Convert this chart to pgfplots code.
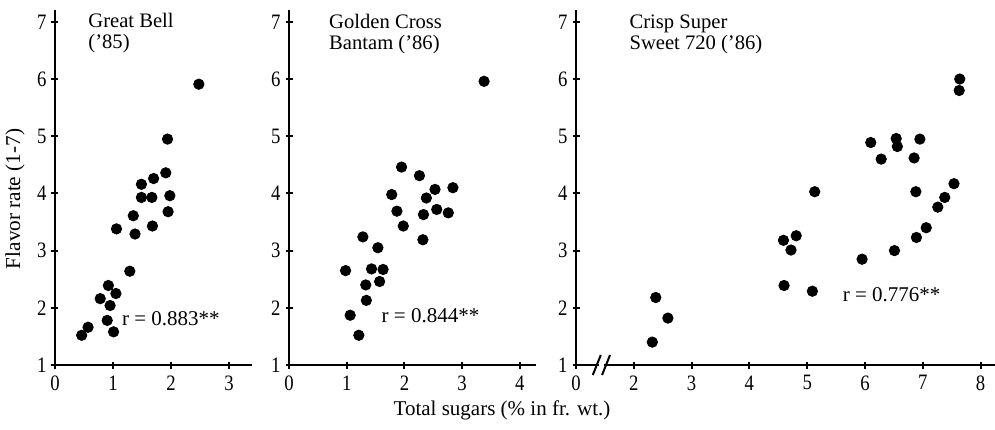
\documentclass[border=0pt]{standalone}
\usepackage{pgfplots}
\pgfplotsset{compat=1.18}
\usepackage{fontspec}
\setmainfont{Liberation Serif}
\newfontfamily\condfont[FakeStretch=0.85]{Liberation Serif}
\pgfplotsset{
  panel/.style={
    scale only axis, anchor=south west, clip=false,
    axis lines*=left, axis line style={-, line width=1.4pt},
    ymin=1, ymax=7.2, height=177.3pt,
    ytick={1,...,7},
    tick align=center, major tick length=3.5pt,
    tick style={line width=1pt, black},
    ticklabel style={font=\condfont\fontsize{11}{11}\selectfont},
    /pgf/number format/assume math mode=true,
    yticklabel style={xshift=1pt},
  },
  dots/.style={black, only marks, mark=*, mark size=2.6pt, mark options={fill=black, draw=black}},
}
\tikzset{
  ttl/.style={anchor=base west, inner sep=0pt, font=\fontsize{10.3}{10.3}\selectfont},
  rl/.style={anchor=base west, inner sep=0pt, font=\fontsize{10.5}{10.5}\selectfont},
}
\begin{document}
\begin{tikzpicture}
\useasboundingbox (0,0) rectangle (497.5pt,214.5pt);
% Panel 1
\begin{axis}[panel, at={(27.5pt,32pt)}, width=98.6pt, xmin=0, xmax=3.4, xtick={0,1,2,3}]
\addplot[dots] table {
x y
0.46 1.52
0.57 1.66
0.78 2.16
0.90 1.78
0.92 2.39
0.95 2.04
1.05 2.25
1.01 1.58
1.06 3.38
1.29 2.64
1.35 3.61
1.38 3.29
1.49 4.16
1.49 3.93
1.67 3.93
1.70 4.26
1.68 3.43
1.91 4.36
1.94 4.95
1.95 3.68
1.98 3.96
2.48 5.91
};
\node[ttl] at (axis cs:0.57,6.90) {Great Bell};
\node[ttl] at (axis cs:0.57,6.53) {('85)};
\node[rl] at (axis cs:1.15,1.69) {r = 0.883**};
\end{axis}
% Panel 2
\begin{axis}[panel, at={(144.5pt,32pt)}, width=123.5pt, xmin=0, xmax=4.28, xtick={0,1,2,3,4}]
\addplot[dots] table {
x y
0.98 2.65
1.06 1.87
1.21 1.52
1.28 3.24
1.33 2.40
1.34 2.13
1.43 2.68
1.54 3.05
1.57 2.46
1.63 2.67
1.78 3.98
1.87 3.69
1.95 4.46
1.98 3.43
2.26 4.31
2.32 3.19
2.33 3.63
2.38 3.92
2.53 4.07
2.56 3.72
2.76 3.66
2.84 4.10
3.38 5.96
};
\node[ttl] at (axis cs:0.69,6.89) {Golden Cross};
\node[ttl] at (axis cs:0.69,6.52) {Bantam ('86)};
\node[rl] at (axis cs:1.60,1.74) {r = 0.844**};
\end{axis}
% Panel 3
\begin{axis}[panel, at={(288pt,32pt)}, width=209.5pt, xmin=1, xmax=8.25,
  xtick={1,2,3,4,5,6,7,8}, xticklabels={0,2,3,4,5,6,7,8}]
\addplot[dots] table {
x y
2.32 1.40
2.38 2.18
2.59 1.82
4.59 3.18
4.60 2.39
4.72 3.01
4.81 3.26
5.09 2.29
5.13 4.03
5.95 2.85
6.10 4.89
6.28 4.60
6.51 3.00
6.54 4.96
6.56 4.82
6.85 4.62
6.88 4.03
6.89 3.23
6.95 4.95
7.06 3.40
7.26 3.76
7.38 3.93
7.54 4.17
7.63 5.80
7.64 6.00
};
\node[ttl] at (axis cs:1.92,6.89) {Crisp Super};
\node[ttl] at (axis cs:1.92,6.52) {Sweet 720 ('86)};
\node[rl] at (axis cs:5.61,2.11) {r = 0.776**};
\coordinate (bA) at (axis cs:1.36,1);
\coordinate (bB) at (axis cs:1.52,1);
\end{axis}
\fill[white] ([xshift=1pt,yshift=-2pt]bA) rectangle ([xshift=-1pt,yshift=2pt]bB);
\draw[line width=1pt] ([xshift=-2pt,yshift=-5pt]bA) -- ([xshift=2pt,yshift=5pt]bA);
\draw[line width=1pt] ([xshift=-2pt,yshift=-5pt]bB) -- ([xshift=2pt,yshift=5pt]bB);
\node[rotate=90, font=\fontsize{10.6}{10.6}\selectfont] at (7.5pt,115pt) {Flavor rate (1-7)};
\node[font=\fontsize{10.5}{10.5}\selectfont] at (251pt,9.5pt) {Total sugars (\% in fr. wt.)};
\end{tikzpicture}
\end{document}
